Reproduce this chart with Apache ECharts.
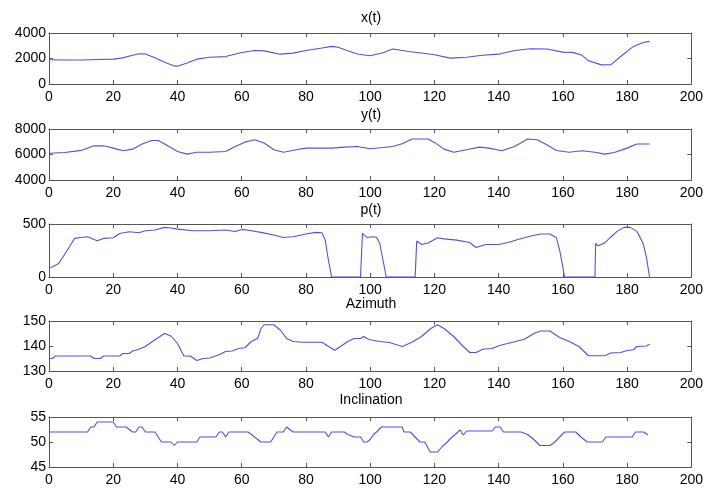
<!DOCTYPE html>
<html><head><meta charset="utf-8">
<script src="https://cdn.jsdelivr.net/npm/echarts@6/dist/echarts.min.js"></script>
<style>html,body{margin:0;padding:0;background:#fff}#c{width:706px;height:489px}</style>
</head><body><div id="c"></div>
<script>
// ---- data ----
const titles = ["x(t)", "y(t)", "p(t)", "Azimuth", "Inclination"];
const xTicks = [0, 20, 40, 60, 80, 100, 120, 140, 160, 180, 200];
const yMins = [0, 4000, 0, 130, 45];
const yMaxs = [4000, 8000, 500, 150, 55];
const yIntervals = [2000, 2000, 500, 10, 5];

const tX = [0,5,10,15,20,23,26,28,30,33,36,39,40,43,46,50,55,60,64,67,72,76,80,85,88,90,93,96,100,104,107,112,116,120,125,130,135,140,145,150,155,160,163,166,168,172,175,178,182,185,187];
const vX = [1900,1880,1880,1920,1950,2050,2250,2370,2350,2050,1700,1420,1400,1650,1950,2100,2150,2470,2630,2600,2340,2420,2630,2820,2950,2880,2600,2350,2210,2450,2740,2550,2430,2290,2030,2100,2250,2340,2630,2760,2740,2500,2480,2250,1820,1500,1520,2160,2950,3260,3340];

const tY = [0,5,10,14,17,20,23,26,29,32,34,37,40,43,46,50,55,58,61,64,67,70,73,77,80,88,92,96,100,104,107,110,113,118,120,123,126,130,134,137,141,145,149,152,155,158,162,166,170,173,176,180,183,187];
const vY = [6100,6160,6320,6680,6680,6500,6290,6420,6820,7100,7100,6680,6240,6030,6180,6180,6240,6630,6970,7160,6900,6370,6180,6370,6500,6500,6580,6630,6450,6550,6630,6840,7210,7210,6950,6420,6180,6370,6580,6500,6290,6630,7210,7160,6760,6320,6180,6290,6180,6030,6160,6500,6820,6820];

const tP = [0,1,3,5,7,8,10,12,15,17,20,22,25,28,30,33,36,38,40,45,50,55,58,60,63,66,70,73,76,80,83,85,86,87,88,97,97.6,99,101,102,103,104,105,114,114.5,116,118,120,121,123,127,131,133,136,140,143,146,150,153,156,158,159,160,160.5,170,170.2,171,173,175,177,179,181,183,185,186,187];
const vP = [90,95,127,220,316,364,373,380,342,364,370,411,427,418,437,443,468,462,452,437,437,443,430,449,437,421,396,373,380,405,421,418,348,158,0,0,411,373,380,375,316,158,0,0,339,307,320,354,370,360,348,326,278,307,307,326,354,386,405,405,370,253,95,0,0,316,294,320,380,433,468,468,433,316,190,0];

const tA = [0,1,2,3,13,14,16,17,22,23,25,26,28,30,33,36,38,40,42,44,46,48,50,53,55,57,59,61,63,65,66,67,70,72,74,76,79,85,87,89,91,93,95,97,98,99,100,103,106,110,113,116,119,121,123,126,129,131,133,135,138,140,144,148,151,153,156,159,162,165,168,173,175,178,180,182,183,186,187];
const vA = [135,135,136,136,136,135,135,136,136,137,137,138,138.7,139.8,142.5,145,144,141,136,136,134.2,135,135.2,136.5,137.8,138,139,139.3,141.8,143.1,147,148.5,148.5,146.4,143,141.8,141.5,141.5,139.8,138.3,140,141.8,143,143,143.8,143,142.5,141.8,141.4,139.8,141.5,143.8,147.1,148.5,147,143.8,139.8,137.4,137.4,138.7,139,140.1,141.4,142.7,145,146,146,143.4,141.8,139.8,136.1,136.1,137.2,137.4,138.2,138.5,139.8,140,140.7];

const tI = [0,12,13,14,15,20,21,24,25,26,27,28,29,30,31,33,35,38,39,40,46,47,52,53,54,55,56,62,64,66,69,71,73,74,75,76,86,87,88,92,93,95,97,98,99,100,101,102,103.5,110,110.5,112.5,114,115.5,117,118.7,121,122.3,124,125.5,126.5,128,129,130,138,139,140.5,141.5,147,149,151,152.8,156,157.5,159,160.6,164,165.6,167.6,172.3,173.4,181.6,182.6,185.2,186.5];
const vI = [52,52,53,53,54,54,53,53,52.5,52,52,53,53,52,52,52,50,50,49.3,50,50,51,51,52,52,51,52,52,51,50,50,52,52,53,52.5,52,52,51,52,52,51.5,51,51,50,50,50.5,51.5,52,53,53,52,52,51,50,50,48,48,49,50,51,51.5,52.4,51.4,52.2,52.2,53,53,52,52,51.5,50.5,49.3,49.3,50,51,52,52,51,50,50,51,51,52,52,51.4];

const seriesT = [tX, tY, tP, tA, tI];
const seriesV = [vX, vY, vP, vA, vI];

// ---- layout ----
const tops = [33, 129, 224, 321, 417];
const heights = [51, 51, 53, 50, 50];
const titleY = [18, 115, 210, 304, 400];
const FONT = '"Liberation Sans", Arial, sans-serif';
const boxColor = '#555';
const lineColor = '#5050e6';

const grids = [], xAxes = [], yAxes = [], series = [], graphics = [];
for (let i = 0; i < 5; i++) {
  grids.push({ left: 49, right: 13, top: tops[i], height: heights[i] });
  const axCommon = {
    gridIndex: i, type: 'value', min: 0, max: 200, interval: 20,
    axisLine: { show: true, onZero: false, lineStyle: { color: boxColor, width: 1 } },
    axisTick: { show: true, inside: true, length: 4, lineStyle: { color: boxColor } },
    splitLine: { show: false }
  };
  xAxes.push(Object.assign({}, axCommon, { position: 'bottom',
    axisLabel: { show: true, color: '#000', fontSize: 14, fontFamily: FONT, margin: 6,
      formatter: v => String(v) } }));
  xAxes.push(Object.assign({}, axCommon, { position: 'top', axisLabel: { show: false } }));
  const yCommon = {
    gridIndex: i, type: 'value', min: yMins[i], max: yMaxs[i], interval: yIntervals[i],
    axisLine: { show: true, onZero: false, lineStyle: { color: boxColor, width: 1 } },
    axisTick: { show: true, inside: true, length: 4, lineStyle: { color: boxColor } },
    splitLine: { show: false }
  };
  yAxes.push(Object.assign({}, yCommon, { position: 'left',
    axisLabel: { show: true, color: '#000', fontSize: 14, fontFamily: FONT, margin: 3,
      formatter: v => String(v) } }));
  yAxes.push(Object.assign({}, yCommon, { position: 'right', axisLabel: { show: false } }));
  series.push({
    type: 'line', xAxisIndex: 2 * i, yAxisIndex: 2 * i, showSymbol: false, symbol: 'none',
    data: seriesT[i].map((t, k) => [t, seriesV[i][k]]),
    lineStyle: { color: lineColor, width: 1.1 }, animation: false
  });
  graphics.push({ type: 'text', x: 371, y: titleY[i],
    style: { text: titles[i], fill: '#000', font: '14px ' + FONT, textAlign: 'center', textVerticalAlign: 'middle' } });
}

const chart = echarts.init(document.getElementById('c'), null, { renderer: 'canvas' });
chart.setOption({ animation: false, grid: grids, xAxis: xAxes, yAxis: yAxes, series: series, graphic: graphics });
</script></body></html>
